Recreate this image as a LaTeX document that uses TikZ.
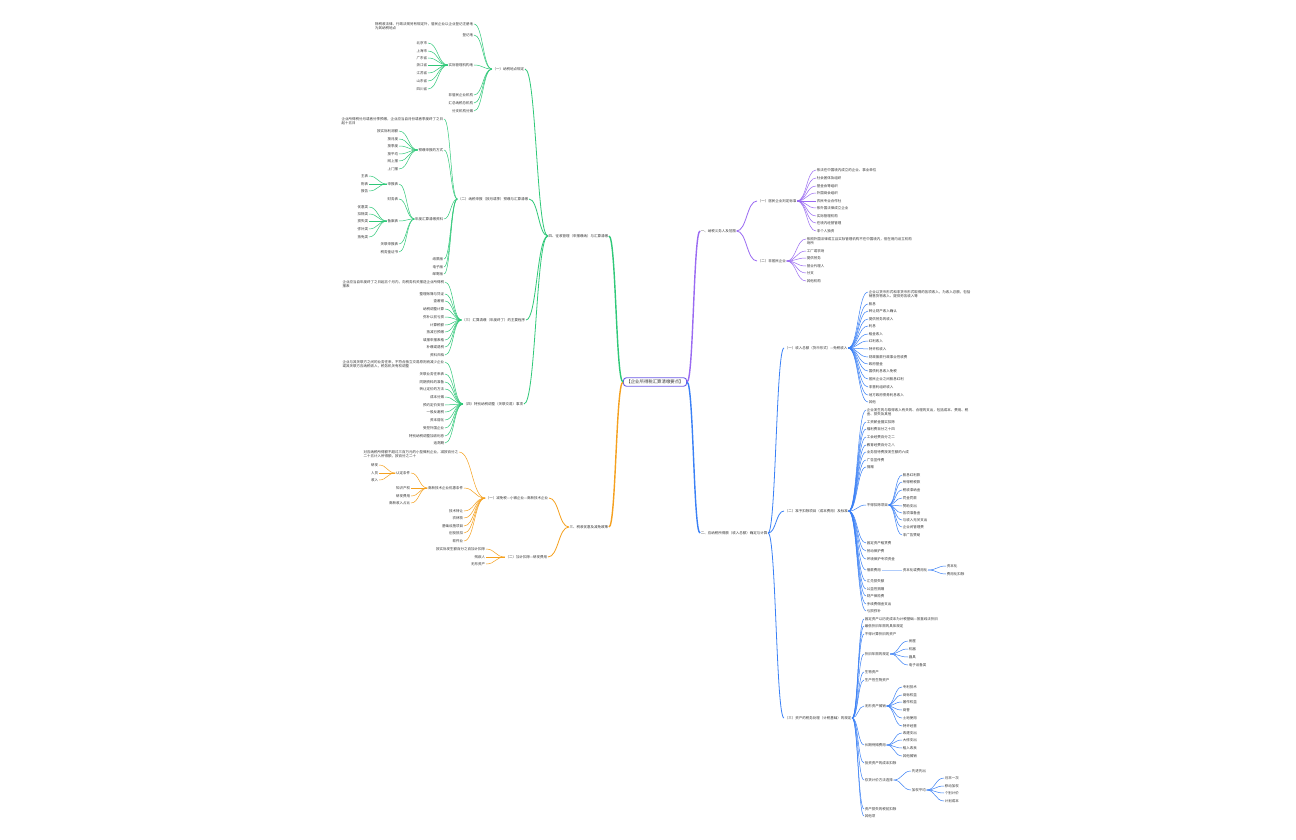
\documentclass[tikz,border=0pt]{standalone}
\usepackage{fontspec}
\setmainfont{Noto Sans CJK SC}
\usetikzlibrary{calc}
\definecolor{rootindigo}{HTML}{6C5CE7}
\definecolor{taxgreen}{HTML}{2FC878}
\definecolor{taxorange}{HTML}{F5A01E}
\definecolor{taxpurple}{HTML}{9A6AF2}
\definecolor{taxblue}{HTML}{3A80F6}
\definecolor{inkgray}{HTML}{333333}

\begin{document}
\begin{tikzpicture}[x=1pt,y=-1pt,font=\fontsize{3.5}{4.5}\selectfont,text=inkgray,
  fork/.style={to path={.. controls ($(\tikztostart)!.5!(\tikztotarget|-\tikztostart)$) and ($(\tikztotarget)!.5!(\tikztostart|-\tikztotarget)$) .. (\tikztotarget)}},
  core/.style={draw=rootindigo,line width=0.9pt,rounded corners=3pt,fill=white,font=\fontsize{4.4}{5}\selectfont,inner xsep=3pt,inner ysep=2.2pt},
  lt/.style={anchor=east,inner sep=0.6pt},
  rt/.style={anchor=west,inner sep=0.6pt},
  lw/.style={anchor=north east,align=left,inner sep=0.6pt},
  rw/.style={anchor=north west,align=left,inner sep=0.6pt},
  trunk/.style={line width=1.4pt},
  bough/.style={line width=0.8pt},
  twig/.style={line width=0.5pt}]
\useasboundingbox (0,0) rectangle (1296,840);
\fill[white] (0,0) rectangle (1296,840);

% root and main branches
\node[core] (core) at (655,382) {【企业所得税汇算清缴要点】};
\node[rt] (prp) at (700,231) {一、纳税义务人及范围};
\node[rt] (blu) at (700,533) {二、应纳税所得额（收入总额）确定与计算};
\node[lt] (org) at (609,527) {三、税收优惠及减免政策};
\node[lt] (grn) at (609,236) {四、征收管理（申报缴纳）与汇算清缴};
\draw[taxpurple,trunk] (core.east) to[fork] (prp.west);
\draw[taxblue,trunk] (core.east) to[fork] (blu.west);
\draw[taxorange,trunk] (core.west) to[fork] (org.east);
\draw[taxgreen,trunk] (core.west) to[fork] (grn.east);

% green branch
\node[lt] (g1) at (525,69) {（一）纳税地点规定};
\node[lt] (g2) at (529,199) {（二）纳税申报（按月或季）预缴与汇算清缴};
\node[lt] (g3) at (526,320) {（三）汇算清缴（年度终了）的主要程序};
\node[lt] (g4) at (524,404) {（四）特别纳税调整（关联交易）事项};
\foreach \id in {g1,g2,g3,g4} \draw[taxgreen,bough] (grn.west) to[fork] (\id.east);

\node[lw] (g1a) at (474,21.6) {除税收法律、行政法规另有规定外，居民企业以企业登记注册地\\为其纳税地点};
\coordinate (g1a0) at ([yshift=-2.4pt]g1a.north east);
\draw[taxgreen,twig] (g1.west) to[fork] (g1a0);
\foreach \id/\yy/\txt in {b/35/登记地,c/65/实际管理机构地,d/95/非居民企业机构,e/103/汇总纳税总机构,f/111/分支机构分摊}
  {\node[lt] (g1\id) at (474,\yy) {\txt}; \draw[taxgreen,twig] (g1.west) to[fork] (g1\id.east);}
\foreach \id/\yy/\txt in {1/43/北京市,2/51/上海市,3/58/广东省,4/65/浙江省,5/73/江苏省,6/81/山东省,7/89/四川省}
  {\node[lt] (g1c\id) at (428,\yy) {\txt}; \draw[taxgreen,twig] (g1c.west) to[fork] (g1c\id.east);}

\node[lw] (g2a) at (444,116.6) {企业所得税分月或者分季预缴，企业应当自月份或者季度终了之日\\起十五日};
\coordinate (g2a0) at ([yshift=-2.4pt]g2a.north east);
\draw[taxgreen,twig] (g2.west) to[fork] (g2a0);
\foreach \id/\yy/\txt in {b/150/预缴申报的方式,c/219/年度汇算清缴资料,d/259/纸质版,e/267/电子版,f/274/邮寄版}
  {\node[lt] (g2\id) at (444,\yy) {\txt}; \draw[taxgreen,twig] (g2.west) to[fork] (g2\id.east);}
\foreach \id/\yy/\txt in {1/131/按实际利润额,2/139/按月度,3/146/按季度,4/154/按平均,5/161/网上报,6/169/上门报}
  {\node[lt] (g2b\id) at (399,\yy) {\txt}; \draw[taxgreen,twig] (g2b.west) to[fork] (g2b\id.east);}
\foreach \id/\yy/\txt in {1/184/申报表,2/199/财务表,3/221/备案表,4/244/关联申报表,5/252/税务鉴证书}
  {\node[lt] (g2c\id) at (399,\yy) {\txt}; \draw[taxgreen,twig] (g2c.west) to[fork] (g2c\id.east);}
\foreach \id/\yy/\txt in {1/176/主表,2/184/附表,3/191/报告}
  {\node[lt] (g2ca\id) at (369,\yy) {\txt}; \draw[taxgreen,twig] (g2c1.west) to[fork] (g2ca\id.east);}
\foreach \id/\yy/\txt in {1/207/优惠类,2/214/扣除类,3/221/损失类,4/229/弥补类,5/237/抵免类}
  {\node[lt] (g2cc\id) at (369,\yy) {\txt}; \draw[taxgreen,twig] (g2c3.west) to[fork] (g2cc\id.east);}

\node[lw] (g3a) at (445,279.6) {企业应当自年度终了之日起五个月内，向税务机关报送企业所得税\\报表};
\coordinate (g3a0) at ([yshift=-2.4pt]g3a.north east);
\draw[taxgreen,twig] (g3.west) to[fork] (g3a0);
\foreach \id/\yy/\txt in {b/294/整理账簿与凭证,c/301/查差错,d/309/纳税调整计算,e/317/弥补以前亏损,f/325/计算税额,g/332/抵减已预缴,h/340/填报申报表格,i/347/补缴或退税,j/355/资料归档}
  {\node[lt] (g3\id) at (445,\yy) {\txt}; \draw[taxgreen,twig] (g3.west) to[fork] (g3\id.east);}

\node[lw] (g4a) at (445,359.6) {企业与其关联方之间的业务往来，不符合独立交易原则而减少企业\\或其关联方应纳税收入，税务机关有权调整};
\coordinate (g4a0) at ([yshift=-2.4pt]g4a.north east);
\draw[taxgreen,twig] (g4.west) to[fork] (g4a0);
\foreach \id/\yy/\txt in {b/374/关联业务往来表,c/382/同期资料的准备,d/389/转让定价的方法,e/397/成本分摊,f/405/预约定价安排,g/412/一般反避税,h/420/资本弱化,i/428/受控外国企业,j/436/特别纳税调整加收利息,k/443/追溯期}
  {\node[lt] (g4\id) at (445,\yy) {\txt}; \draw[taxgreen,twig] (g4.west) to[fork] (g4\id.east);}

% orange branch
\node[lt] (o1) at (549,498) {（一）减免税—小微企业—高新技术企业};
\node[lt] (o2) at (548,557) {（二）加计扣除—研发费用};
\foreach \id in {o1,o2} \draw[taxorange,bough] (org.west) to[fork] (\id.east);
\node[lw] (o1a) at (459,449.6) {对应纳税所得额不超过三百万元的小型微利企业，减按百分之\\二十五计入所得额，按百分之二十};
\coordinate (o1a0) at ([yshift=-2.4pt]o1a.north east);
\draw[taxorange,twig] (o1.west) to[fork] (o1a0);
\foreach \id/\yy/\txt in {b/488/高新技术企业优惠条件,c/511/技术转让,d/518/农林牧,e/526/基础设施项目,f/533/创投抵扣,g/541/软件业}
  {\node[lt] (o1\id) at (464,\yy) {\txt}; \draw[taxorange,twig] (o1.west) to[fork] (o1\id.east);}
\foreach \id/\yy/\txt in {1/473/认定条件,2/488/知识产权,3/496/研发费用,4/503/高新收入占比}
  {\node[lt] (o1b\id) at (411,\yy) {\txt}; \draw[taxorange,twig] (o1b.west) to[fork] (o1b\id.east);}
\foreach \id/\yy/\txt in {1/465/研发,2/473/人员,3/480/收入}
  {\node[lt] (o1ba\id) at (379,\yy) {\txt}; \draw[taxorange,twig] (o1b1.west) to[fork] (o1ba\id.east);}
\foreach \id/\yy/\txt in {a/549/按实际发生额百分之百加计扣除,b/557/残疾人,c/564/无形资产}
  {\node[lt] (o2\id) at (486,\yy) {\txt}; \draw[taxorange,twig] (o2.west) to[fork] (o2\id.east);}

% purple branch
\node[rt] (p1) at (757,201) {（一）居民企业判定标准};
\node[rt] (p2) at (757,261) {（二）非居民企业};
\foreach \id in {p1,p2} \draw[taxpurple,bough] (prp.east) to[fork] (\id.west);
\foreach \id/\yy/\txt in {a/170/依法在中国境内成立的企业、事业单位,b/178/社会团体及组织,c/186/基金会等组织,d/193/外国商会组织,e/201/农民专业合作社,f/208/依外国法律成立企业,g/216/实际管理机构,h/223/在境内经营管理,i/231/非个人独资}
  {\node[rt] (p1\id) at (816,\yy) {\txt}; \draw[taxpurple,twig] (p1.east) to[fork] (p1\id.west);}
\node[rw] (p2a) at (806,236.6) {依照外国法律成立且实际管理机构不在中国境内，但在境内设立机构\\场所};
\coordinate (p2a0) at ([yshift=-2.4pt]p2a.north west);
\draw[taxpurple,twig] (p2.east) to[fork] (p2a0);
\foreach \id/\yy/\txt in {b/251/工厂或农场,c/258/提供劳务,d/266/营业代理人,e/273/分支,f/281/其他机构}
  {\node[rt] (p2\id) at (806,\yy) {\txt}; \draw[taxpurple,twig] (p2.east) to[fork] (p2\id.west);}

% blue branch
\node[rt] (b1) at (784,348) {（一）收入总额（货币形式）—免税收入};
\node[rt] (b2) at (784,511) {（二）准予扣除项目（成本费用）及标准};
\node[rt] (b3) at (784,718) {（三）资产的税务处理（计税基础）的规定};
\foreach \id in {b1,b2,b3} \draw[taxblue,bough] (blu.east) to[fork] (\id.west);

\node[rw] (b1a) at (868,289.6) {企业以货币形式和非货币形式取得的各项收入，为收入总额，包括\\销售货物收入、提供劳务收入等};
\coordinate (b1a0) at ([yshift=-2.4pt]b1a.north west);
\draw[taxblue,twig] (b1.east) to[fork] (b1a0);
\foreach \id/\yy/\txt in {b/304/股息,c/311/转让财产收入确认,d/319/提供劳务的收入,e/326/利息,f/334/租金收入,g/341/红利收入,h/349/特许权收入,i/357/财政拨款行政事业性收费,j/364/政府基金,k/371/国债利息收入免税,l/379/居民企业之间股息红利,m/387/非营利组织收入,n/395/地方政府债券利息收入,o/402/其他}
  {\node[rt] (b1\id) at (868,\yy) {\txt}; \draw[taxblue,twig] (b1.east) to[fork] (b1\id.west);}

\node[rw] (b2a) at (866,407.6) {企业发生的与取得收入有关的、合理的支出，包括成本、费用、税\\金、损失及其他};
\coordinate (b2a0) at ([yshift=-2.4pt]b2a.north west);
\draw[taxblue,twig] (b2.east) to[fork] (b2a0);
\foreach \id/\yy/\txt in {b/422/工资薪金据实扣除,c/429/福利费百分之十四,d/437/工会经费百分之二,e/445/教育经费百分之八,f/452/业务招待费按发生额的六成,g/460/广告宣传费,h/467/捐赠,i/505/不得扣除项目,j/543/固定资产租赁费,k/551/劳动保护费,l/559/环境保护专项资金,m/570/借款费用,n/581/汇兑损失额,o/589/公益性捐赠,p/596/财产保险费,q/604/手续费佣金支出,r/611/亏损弥补}
  {\node[rt] (b2\id) at (866,\yy) {\txt}; \draw[taxblue,twig] (b2.east) to[fork] (b2\id.west);}
\foreach \id/\yy/\txt in {1/475/股息红利款,2/482/所得税税款,3/490/税收滞纳金,4/498/罚金罚款,5/506/赞助支出,6/513/各项准备金,7/520/与收入无关支出,8/527/企业间管理费,9/535/非广告赞助}
  {\node[rt] (b2i\id) at (902,\yy) {\txt}; \draw[taxblue,twig] (b2i.east) to[fork] (b2i\id.west);}
\node[rt] (b2m1) at (902,570) {资本化或费用化};
\draw[taxblue!40,twig] (b2m.east) -- (b2m1.west);
\foreach \id/\yy/\txt in {a/566/资本化,b/574/费用化扣除}
  {\node[rt] (b2m1\id) at (946,\yy) {\txt}; \draw[taxblue,twig] (b2m1.east) to[fork] (b2m1\id.west);}

\foreach \id/\yy/\txt in {a/619/固定资产以历史成本为计税基础—按直线法折旧,b/626/最低折旧年限的具体规定,c/634/不得计算折旧的资产,d/654/折旧年限的规定,e/672/生物资产,f/680/生产性生物资产,g/706/无形资产摊销,h/745/长期待摊费用,i/763/投资资产的成本扣除,j/780/存货计价方法选择,k/809/资产损失的税前扣除,l/816/其他项}
  {\node[rt] (b3\id) at (864,\yy) {\txt}; \draw[taxblue,twig] (b3.east) to[fork] (b3\id.west);}
\foreach \id/\yy/\txt in {1/641/房屋,2/649/机器,3/657/器具,4/665/电子设备类}
  {\node[rt] (b3d\id) at (908,\yy) {\txt}; \draw[taxblue,twig] (b3d.east) to[fork] (b3d\id.west);}
\foreach \id/\yy/\txt in {1/687/专利技术,2/695/商标权益,3/702/著作权益,4/710/商誉,5/718/土地使用,6/726/特许经营}
  {\node[rt] (b3g\id) at (902,\yy) {\txt}; \draw[taxblue,twig] (b3g.east) to[fork] (b3g\id.west);}
\foreach \id/\yy/\txt in {1/733/改建支出,2/740/大修支出,3/748/租入改良,4/756/其他摊销}
  {\node[rt] (b3h\id) at (902,\yy) {\txt}; \draw[taxblue,twig] (b3h.east) to[fork] (b3h\id.west);}
\foreach \id/\yy/\txt in {1/771/先进先出,2/790/加权平均}
  {\node[rt] (b3j\id) at (911,\yy) {\txt}; \draw[taxblue,twig] (b3j.east) to[fork] (b3j\id.west);}
\foreach \id/\yy/\txt in {1/778/月末一次,2/786/移动加权,3/793/个别计价,4/801/计划成本}
  {\node[rt] (b3jb\id) at (944,\yy) {\txt}; \draw[taxblue,twig] (b3j2.east) to[fork] (b3jb\id.west);}
\end{tikzpicture}
\end{document}
